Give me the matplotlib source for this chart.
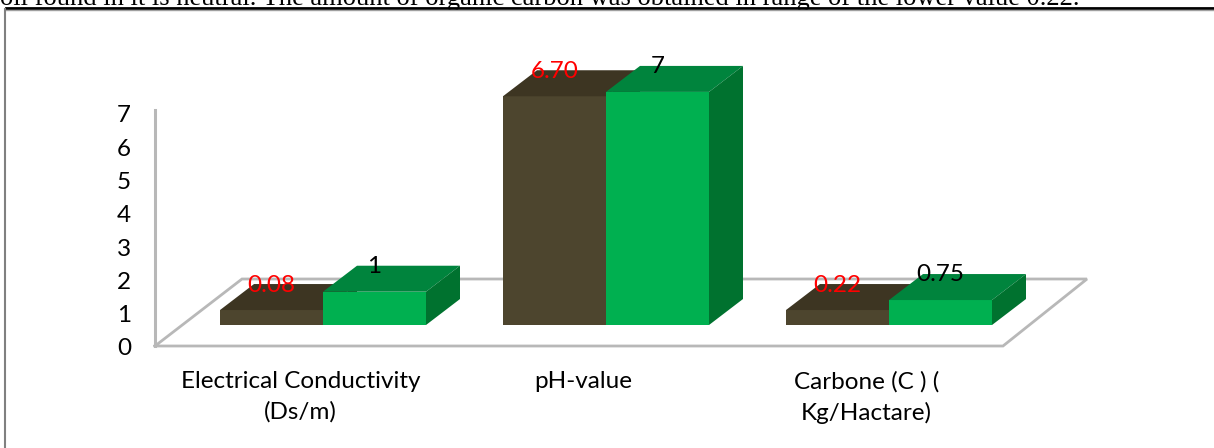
import matplotlib
matplotlib.use("Agg")
import matplotlib.pyplot as plt
from matplotlib.patches import Polygon

# values as drawn (the short brown bars are taller than their labels say)
categories = ["Electrical Conductivity\n(Ds/m)", "pH-value", "Carbone (C ) (\nKg/Hactare)"]
brown_heights = [0.45, 6.87, 0.45]
green_heights = [1.0, 7.0, 0.75]
brown_labels = ["0.08", "6.70", "0.22"]
green_labels = ["1", "7", "0.75"]
yticks = [0, 1, 2, 3, 4, 5, 6, 7]
para = "oil found in it is neutral. The amount of organic carbon was obtained in range of the lower value 0.22."

W, H = 1214, 448
unit_x = 283.0
unit_y = 33.3
base = 0.63
bw = 103 / unit_x
dx = 34 / unit_x
dy = 26 / unit_y

fig = plt.figure(figsize=(W / 100, H / 100), dpi=100)
ax = fig.add_axes([0, 0, 1, 1])
ax.set_xlim(-323 / unit_x, (W - 323) / unit_x)
ax.set_ylim(-(H - 346) / unit_y, 346 / unit_y)
ax.axis("off")


def px(x):
    return (x - 323) / unit_x


def py(y):
    return (346 - y) / unit_y


# floor and wall
grey = "#B8B8B8"
ax.plot([px(155), px(155)], [py(346), py(110)], color=grey, lw=2.2)
ax.plot([px(155), px(242), px(1087), px(1003), px(155)],
        [py(346), py(279), py(279), py(346), py(346)], color=grey, lw=2, solid_joinstyle="miter")


def box(x0, h, front, top, side, z):
    x1 = x0 + bw
    yt = base + h
    ax.add_patch(Polygon([(x0, base), (x1, base), (x1, yt), (x0, yt)], fc=front, ec="none", zorder=z))
    ax.add_patch(Polygon([(x0, yt), (x1, yt), (x1 + dx, yt + dy), (x0 + dx, yt + dy)], fc=top, ec="none", zorder=z))
    ax.add_patch(Polygon([(x1, base), (x1 + dx, base + dy), (x1 + dx, yt + dy), (x1, yt)], fc=side, ec="none", zorder=z))


for i in range(len(categories)):
    box(i - bw, brown_heights[i], "#4D452E", "#3D3522", "#37301F", 3)
    box(i, green_heights[i], "#00B050", "#00843D", "#00722F", 4)
    ax.text(i - bw / 2, base + brown_heights[i] + dy / 2 + 0.35, brown_labels[i], color="#FF0000",
            fontsize=17.5, family="Lato", ha="center", va="center", zorder=6)
    ax.text(i + bw / 2, base + green_heights[i] + dy - 0.02, green_labels[i], color="black",
            fontsize=17.5, family="Lato", ha="center", va="center", zorder=6)
    ax.text(i - 0.08, py(371), categories[i], color="black", fontsize=17.5, family="Lato",
            ha="center", va="top", linespacing=1.5)

for v in yticks:
    ax.text(px(124), v - 0.09, str(v), color="black", fontsize=17.5, family="Lato", ha="center", va="center")

# page furniture: clipped paragraph line and the text box border
ax.text(px(0), py(5), para, color="black", fontsize=19.1, family="Liberation Serif", ha="left", va="baseline", clip_on=True)
ax.plot([px(6), px(W)], [py(8), py(8)], color="black", lw=2, zorder=5)
ax.plot([px(6), px(W)], [py(9.8), py(9.8)], color="#A0A0A0", lw=1, zorder=5)
ax.plot([px(5.5), px(5.5)], [py(9), py(H)], color="#808080", lw=1.5, zorder=5)

fig.savefig("out.png", dpi=100)
